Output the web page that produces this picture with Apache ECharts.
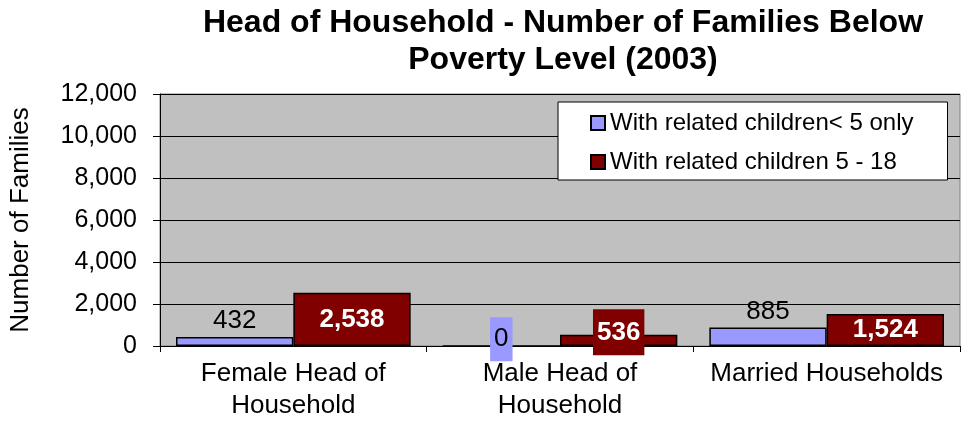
<!DOCTYPE html>
<html>
<head>
<meta charset="utf-8">
<script src="https://cdn.jsdelivr.net/npm/echarts@6/dist/echarts.min.js"></script>
<style>
  html, body { margin: 0; padding: 0; background: #fff; }
  #chart { width: 961px; height: 423px; }
</style>
</head>
<body>
<div id="chart"></div>
<script>
const categories = ['Female Head of\nHousehold', 'Male Head of\nHousehold', 'Married Households']
const under5 = [432, 0, 885]
const from5to18 = [2538, 536, 1524]
const seriesNames = ['With related children< 5 only', 'With related children 5 - 18']
const yTicks = { min: 0, max: 12000, interval: 2000 }

const FONT = 'Liberation Sans, Arial, sans-serif'
const BLUE = '#9999ff'
const RED = '#800000'
const fmt = v => Number(v).toLocaleString('en-US')

// small bars get a coloured box behind the label, as in the original
function blueData() {
  return under5.map(v => {
    if (v !== 0) return v
    return {
      value: v,
      label: { position: 'top', distance: -16, backgroundColor: BLUE, padding: [9, 4] }
    }
  })
}
function redData() {
  return from5to18.map(v => {
    if (v >= 1000) return v
    return {
      value: v,
      label: { position: 'inside', offset: [0, -8], backgroundColor: RED, padding: [10, 4] }
    }
  })
}

const chart = echarts.init(document.getElementById('chart'))
chart.setOption({
  animation: false,
  textStyle: { fontFamily: FONT },
  title: {
    text: 'Head of Household - Number of Families Below\nPoverty Level (2003)',
    left: 563,
    top: 5,
    padding: 0,
    textAlign: 'center',
    textStyle: { fontFamily: FONT, fontSize: 32, fontWeight: 'bold', lineHeight: 37, color: '#000' }
  },
  legend: {
    orient: 'vertical',
    left: 558,
    top: 102,
    padding: [9, 34, 6, 32],
    itemGap: 15,
    itemWidth: 14,
    itemHeight: 14,
    icon: 'rect',
    backgroundColor: '#fff',
    borderColor: '#000',
    borderWidth: 1,
    borderRadius: 0,
    textStyle: { fontFamily: FONT, fontSize: 24, color: '#000' },
    data: seriesNames
  },
  grid: {
    left: 160,
    right: 1,
    top: 94,
    bottom: 77,
    show: true,
    backgroundColor: '#c0c0c0',
    borderColor: '#808080',
    borderWidth: 1
  },
  xAxis: {
    type: 'category',
    data: categories,
    axisLine: { lineStyle: { color: '#000', width: 1 } },
    axisTick: { show: true, length: 6, lineStyle: { color: '#000' } },
    axisLabel: { interval: 0, margin: 12, fontSize: 26, lineHeight: 32, color: '#000', fontFamily: FONT }
  },
  yAxis: {
    type: 'value',
    min: yTicks.min,
    max: yTicks.max,
    interval: yTicks.interval,
    name: 'Number of Families',
    nameLocation: 'middle',
    nameRotate: 90,
    nameGap: 126,
    nameTextStyle: { fontSize: 26, color: '#000', fontFamily: FONT },
    axisLine: { show: true, lineStyle: { color: '#000', width: 1 } },
    axisTick: { show: true, length: 7, lineStyle: { color: '#000' } },
    axisLabel: { formatter: fmt, fontSize: 25, margin: 23, color: '#000', fontFamily: FONT },
    splitLine: { lineStyle: { color: '#000', width: 1 } }
  },
  series: [
    {
      name: seriesNames[0],
      type: 'bar',
      barGap: '0%',
      barCategoryGap: '12%',
      data: blueData(),
      itemStyle: { color: BLUE, borderColor: '#000', borderWidth: 1.5 },
      label: {
        show: true,
        position: 'top',
        distance: 3,
        formatter: p => fmt(p.value),
        fontSize: 26,
        color: '#000',
        fontFamily: FONT
      }
    },
    {
      name: seriesNames[1],
      type: 'bar',
      barGap: '0%',
      barCategoryGap: '12%',
      data: redData(),
      itemStyle: { color: RED, borderColor: '#000', borderWidth: 1.5 },
      label: {
        show: true,
        position: 'inside',
        formatter: p => fmt(p.value),
        fontSize: 26,
        fontWeight: 'bold',
        color: '#fff',
        fontFamily: FONT
      }
    }
  ]
})
</script>
</body>
</html>
